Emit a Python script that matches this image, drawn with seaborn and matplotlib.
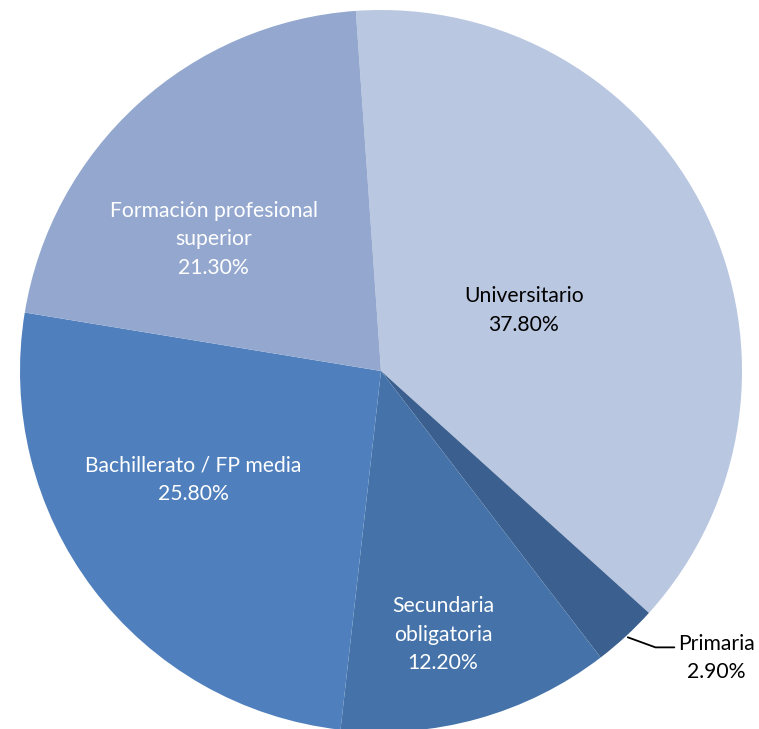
import matplotlib
matplotlib.use("Agg")
import matplotlib.pyplot as plt
import seaborn as sns
import numpy as np

categories = ["Universitario", "Primaria", "Secundaria\nobligatoria", "Bachillerato / FP media", "Formación profesional\nsuperior"]
values = [37.8, 2.9, 12.2, 25.8, 21.3]
colors = ["#B9C7E1", "#3B5F8E", "#4573A9", "#4F80BD", "#94A8CF"]
text_colors = ["black", "black", "white", "white", "white"]

sns.set_style("white")
plt.rcParams["font.family"] = ["Lato", "DejaVu Sans"]

W, H = 759, 729
fig = plt.figure(figsize=(W / 100, H / 100), dpi=100)
ax = fig.add_axes([0, 0, 1, 1])
cx, cy, R = 381, H - 371, 361
wedges, _ = ax.pie(values, colors=colors, startangle=94, counterclock=False,
                   radius=R, center=(cx, cy), frame=True,
                   wedgeprops=dict(linewidth=0))
ax.set_xlim(0, W)
ax.set_ylim(0, H)
ax.set_aspect("equal")
ax.axis("off")

FS = 15.2
LS = 1.52
# label placement (distance fraction of radius, angular offset deg)
dist = [0.43, None, 0.75, 0.60, 0.59]
offs = [-3, 0, -2.3, -7, 9.5]
for i, w in enumerate(wedges):
    mid = np.deg2rad((w.theta1 + w.theta2) / 2 + offs[i])
    lab = f"{categories[i]}\n{values[i]:.2f}%"
    if dist[i] is None:
        ex, ey = cx + R * np.cos(mid), cy + R * np.sin(mid)
        tx, ty = 716, H - 658
        ax.annotate(lab, xy=(ex + 2, ey - 1), xytext=(tx, ty), ha="center", va="center",
                    fontsize=FS, color=text_colors[i], linespacing=LS,
                    arrowprops=dict(arrowstyle="-", color="black", lw=1.3,
                                    connectionstyle="angle,angleA=180,angleB=-20,rad=0",
                                    shrinkA=0, shrinkB=0,
                                    relpos=(-0.02, 0.72)))
    else:
        x = cx + dist[i] * R * np.cos(mid)
        y = cy + dist[i] * R * np.sin(mid)
        ax.text(x, y, lab, ha="center", va="center", fontsize=FS,
                color=text_colors[i], linespacing=LS)

fig.savefig("out.png", dpi=100)
